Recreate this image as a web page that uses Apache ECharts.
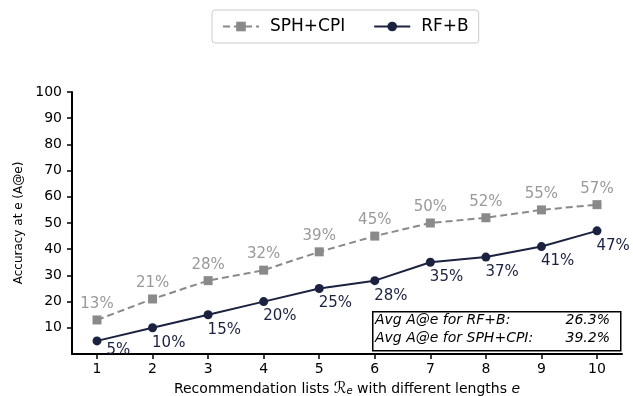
<!DOCTYPE html>
<html>
<head>
<meta charset="utf-8">
<script src="https://cdn.jsdelivr.net/npm/echarts@6/dist/echarts.min.js"></script>
<style>
  html, body { margin: 0; padding: 0; background: #fff; }
  #chart { width: 633px; height: 396px; }
</style>
</head>
<body>
<div id="chart"></div>
<script>
// List lengths e and accuracy values (A@e, %)
const lengths = [1, 2, 3, 4, 5, 6, 7, 8, 9, 10];
const sphCpi = [13, 21, 28, 32, 39, 45, 50, 52, 55, 57];
const rfB = [5, 10, 15, 20, 25, 28, 35, 37, 41, 47];
const yTicks = [10, 20, 30, 40, 50, 60, 70, 80, 90, 100];
const avgLines = [
  ['Avg A@e for RF+B:', '26.3%'],
  ['Avg A@e for SPH+CPI:', '39.2%']
];

const NAVY = '#1b2240';
const GRAY = '#8a8a8a';
const FONT = 'DejaVu Sans';

const chart = echarts.init(document.getElementById('chart'), null, { renderer: 'canvas' });

const rfData = lengths.map((x, i) => {
  const item = { value: [x, rfB[i]] };
  if (i === 0) item.label = { position: [14, 6] };
  return item;
});

const boxLeft = 372, boxTop = 311, boxW = 248, boxH = 39;

chart.setOption({
  animation: false,
  textStyle: { fontFamily: FONT },
  grid: { left: 72, right: 11, top: 92, bottom: 42, containLabel: false, outerBoundsMode: 'none' },
  legend: {
    top: 10,
    left: 212,
    itemGap: 28,
    itemWidth: 36,
    itemHeight: 12,
    padding: [8, 10, 8, 10],
    borderColor: '#cccccc',
    borderWidth: 1,
    borderRadius: 3,
    textStyle: { fontFamily: FONT, fontSize: 17, color: '#000', padding: [0, 0, 0, 6] },
    data: ['SPH+CPI', 'RF+B']
  },
  xAxis: {
    type: 'value',
    min: 0.55,
    max: 10.45,
    name: 'Recommendation lists {cal|ℛ}{sub|e} with different lengths {it|e}',
    nameLocation: 'middle',
    nameGap: 23,
    nameTextStyle: {
      fontFamily: FONT, fontSize: 14, color: '#000',
      rich: {
        cal: { fontFamily: 'DejaVu Sans', fontSize: 16, fontStyle: 'italic', color: '#000' },
        sub: { fontFamily: FONT, fontSize: 10, fontStyle: 'italic', color: '#000', padding: [6, 0, 0, 0] },
        it: { fontFamily: FONT, fontSize: 14, fontStyle: 'italic', color: '#000' }
      }
    },
    splitLine: { show: false },
    axisLine: { show: true, lineStyle: { color: '#000', width: 2 } },
    axisTick: { show: true, length: 5, lineStyle: { color: '#000', width: 1.5 }, customValues: lengths },
    axisLabel: { fontFamily: FONT, fontSize: 14, color: '#000', margin: 8, customValues: lengths }
  },
  yAxis: {
    type: 'value',
    min: 0,
    max: 100,
    interval: 10,
    name: 'Accuracy at e (A@e)',
    nameLocation: 'middle',
    nameGap: 47,
    nameTextStyle: { fontFamily: FONT, fontSize: 12, color: '#000' },
    splitLine: { show: false },
    axisLine: { show: true, lineStyle: { color: '#000', width: 2 } },
    axisTick: { show: true, length: 5, lineStyle: { color: '#000', width: 1.5 }, customValues: yTicks },
    axisLabel: { fontFamily: FONT, fontSize: 14, color: '#000', margin: 10, customValues: yTicks }
  },
  series: [
    {
      name: 'SPH+CPI',
      type: 'line',
      data: lengths.map((x, i) => [x, sphCpi[i]]),
      symbol: 'rect',
      symbolSize: 9,
      itemStyle: { color: GRAY },
      lineStyle: { color: GRAY, width: 2, type: [7, 4] },
      label: {
        show: true,
        position: 'top',
        distance: 4,
        formatter: p => p.value[1] + '%',
        fontFamily: FONT, fontSize: 15, color: '#999999'
      },
      z: 2
    },
    {
      name: 'RF+B',
      type: 'line',
      data: rfData,
      symbol: 'circle',
      symbolSize: 9,
      itemStyle: { color: NAVY },
      lineStyle: { color: NAVY, width: 2 },
      label: {
        show: true,
        position: [4, 12],
        align: 'left',
        verticalAlign: 'top',
        formatter: p => p.value[1] + '%',
        fontFamily: FONT, fontSize: 15, color: NAVY
      },
      z: 3
    }
  ],
  graphic: [
    {
      type: 'rect',
      left: boxLeft, top: boxTop,
      shape: { width: boxW, height: boxH },
      style: { fill: '#fff', stroke: '#000', lineWidth: 1.5 },
      z: 10
    },
    ...avgLines.flatMap((row, i) => [
      {
        type: 'text',
        left: boxLeft + 3, top: boxTop + 2 + i * 18,
        style: { text: row[0], font: 'italic 14px "DejaVu Sans"', fill: '#000' },
        z: 11
      },
      {
        type: 'text',
        right: 633 - (boxLeft + boxW - 10), top: boxTop + 2 + i * 18,
        style: { text: row[1], font: 'italic 14px "DejaVu Sans"', fill: '#000' },
        z: 11
      }
    ])
  ]
});
</script>
</body>
</html>
